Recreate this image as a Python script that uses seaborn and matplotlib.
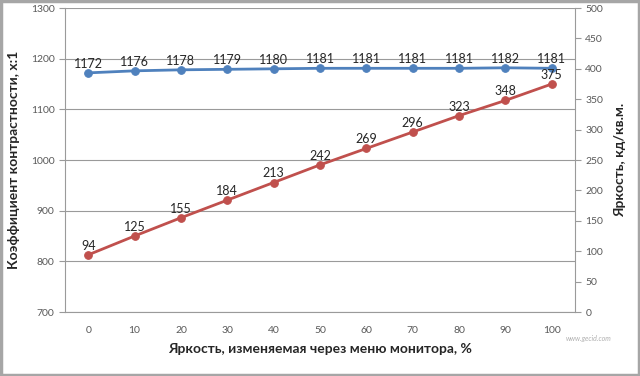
import matplotlib
matplotlib.use("Agg")
import matplotlib.pyplot as plt
import seaborn as sns
import pandas as pd
from matplotlib.patches import Rectangle

# Data
brightness_menu = ["0", "10", "20", "30", "40", "50", "60", "70", "80", "90", "100"]
contrast = [1172, 1176, 1178, 1179, 1180, 1181, 1181, 1181, 1181, 1182, 1181]
luminance = [94, 125, 155, 184, 213, 242, 269, 296, 323, 348, 375]

df = pd.DataFrame({"menu": brightness_menu, "contrast": contrast, "luminance": luminance})

sns.set_style("white")
plt.rcParams["font.family"] = ["Lato", "DejaVu Sans"]

blue = "#4F81BD"
red = "#C0504D"
grid_c = "#9a9a9a"
tick_c = "#595959"

fig = plt.figure(figsize=(6.4, 3.76), dpi=100)
ax = fig.add_axes([0.1016, 0.1702, 0.7968, 0.8085])
ax2 = ax.twinx()

sns.lineplot(data=df, x="menu", y="contrast", ax=ax, color=blue, marker="o",
             markersize=5.5, markeredgecolor=blue, linewidth=2, sort=False)
sns.lineplot(data=df, x="menu", y="luminance", ax=ax2, color=red, marker="o",
             markersize=5.5, markeredgecolor=red, linewidth=2, sort=False)

# Data labels
for i, v in enumerate(contrast):
    ax.annotate(str(v), (i, v), xytext=(0, 6.5), textcoords="offset points",
                ha="center", va="center", fontsize=9, color="#262626")
for i, v in enumerate(luminance):
    ax2.annotate(str(v), (i, v), xytext=(0, 6.5), textcoords="offset points",
                 ha="center", va="center", fontsize=9, color="#262626")

ax.set_xlim(-0.5, len(brightness_menu) - 0.5)
ax.set_ylim(700, 1300)
ax.set_yticks(range(700, 1301, 100))
ax2.set_ylim(0, 500)
ax2.set_yticks(range(0, 501, 50))

# Gridlines from left axis
ax.yaxis.grid(True, color=grid_c, linewidth=0.8)
ax.set_axisbelow(True)

for a in (ax, ax2):
    for s in a.spines.values():
        s.set_visible(False)
ax.spines["left"].set_visible(True)
ax.spines["left"].set_color(grid_c)
ax.spines["bottom"].set_visible(True)
ax.spines["bottom"].set_color(grid_c)
ax2.spines["right"].set_visible(True)
ax2.spines["right"].set_color(grid_c)

# Category ticks between categories
ax.set_xticks(range(len(brightness_menu)))
ax.set_xticklabels(brightness_menu)
ax.set_xticks([i - 0.5 for i in range(len(brightness_menu) + 1)], minor=True)
ax.tick_params(axis="x", which="major", length=0, pad=10, labelsize=7.5, labelcolor=tick_c)
ax.tick_params(axis="x", which="minor", length=4, color=grid_c, direction="out")
ax.tick_params(axis="y", length=4, color=grid_c, labelsize=7.5, labelcolor=tick_c, left=True)
ax2.tick_params(axis="y", length=4, color=grid_c, labelsize=7.5, labelcolor=tick_c, right=True)

ax.set_xlabel("Яркость, изменяемая через меню монитора, %", fontsize=10, fontweight="bold",
              color="#262626", labelpad=6)
ax.set_ylabel("Коэффициент контрастности, х:1", fontsize=10, fontweight="bold",
              color="#262626", labelpad=8)
ax2.set_ylabel("Яркость, кд/кв.м.", fontsize=10, fontweight="bold", color="#262626", labelpad=8)

# Watermark text
fig.text(0.955, 0.10, "www.gecid.com", fontsize=5, style="italic", color="#b0b0b0",
         ha="right", va="center")

# Figure border
fig.patches.append(Rectangle((0.002, 0.003), 0.996, 0.994, transform=fig.transFigure,
                             fill=False, edgecolor="#a6a6a6", linewidth=2.5))

fig.savefig("out.png", dpi=100)
